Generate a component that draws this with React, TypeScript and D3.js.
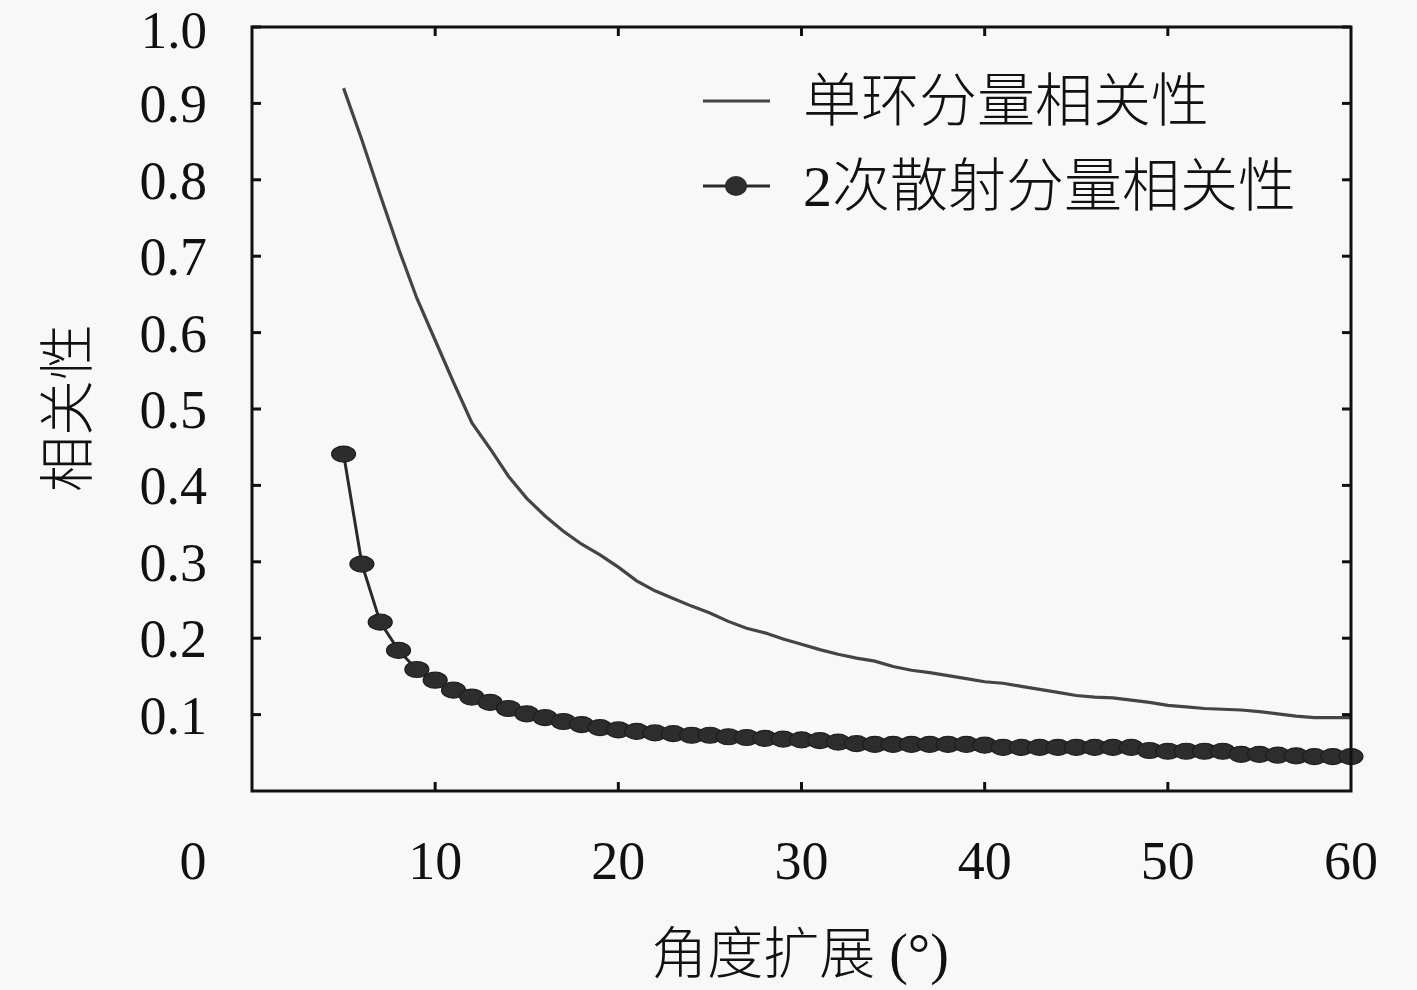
import React from "react";
import * as d3 from "d3";

const W = 1417;
const H = 990;

const angles: number[] = d3.range(5, 61);

const singleRing: number[] = [
  0.920, 0.852, 0.780, 0.710, 0.645, 0.590, 0.535, 0.482, 0.448, 0.412,
  0.383, 0.360, 0.340, 0.323, 0.309, 0.293, 0.275, 0.262, 0.252, 0.242,
  0.233, 0.222, 0.213, 0.207, 0.199, 0.192, 0.185, 0.179, 0.174, 0.170,
  0.163, 0.158, 0.155, 0.151, 0.147, 0.143, 0.141, 0.137, 0.133, 0.129,
  0.125, 0.123, 0.122, 0.119, 0.116, 0.112, 0.110, 0.108, 0.107, 0.106,
  0.104, 0.101, 0.098, 0.096, 0.096, 0.096,
];

const doubleScatter: number[] = [
  0.441, 0.297, 0.221, 0.184, 0.159, 0.145, 0.132, 0.123, 0.116, 0.108,
  0.101, 0.096, 0.091, 0.087, 0.083, 0.080, 0.078, 0.076, 0.075, 0.073,
  0.073, 0.071, 0.070, 0.069, 0.068, 0.067, 0.066, 0.064, 0.062, 0.061,
  0.061, 0.061, 0.061, 0.061, 0.061, 0.060, 0.057, 0.057, 0.057, 0.057,
  0.057, 0.057, 0.057, 0.057, 0.053, 0.052, 0.052, 0.052, 0.052, 0.048,
  0.048, 0.047, 0.046, 0.045, 0.045, 0.045,
];

const xTicks: number[] = [0, 10, 20, 30, 40, 50, 60];
const yTicks: number[] = [0.1, 0.2, 0.3, 0.4, 0.5, 0.6, 0.7, 0.8, 0.9, 1.0];

const legendLabels: string[] = ["单环分量相关性", "2次散射分量相关性"];
const xLabel = "角度扩展 (°)";
const yLabel = "相关性";

const numFont = "'Liberation Serif', 'DejaVu Serif', serif";
const cjkFont = "'Liberation Serif', 'Noto Sans CJK SC', serif";

export default function App() {
  const x = d3.scaleLinear().domain([0, 60]).range([252, 1351]);
  const y = d3.scaleLinear().domain([0, 1]).range([791, 27]);

  const line = d3
    .line<number>()
    .x((_, i) => x(angles[i]))
    .y((d) => y(d));

  const tickLen = 9;
  const frameColor = "#111";

  return (
    <svg
      width={W}
      height={H}
      style={{ position: "absolute", left: 0, top: 0, background: "#f8f8f8" }}
    >
      <rect x={0} y={0} width={W} height={H} fill="#f8f8f8" />

      {/* series 1 */}
      <path d={line(singleRing) || ""} fill="none" stroke="#444" strokeWidth={3.2} />

      {/* series 2 */}
      <path d={line(doubleScatter) || ""} fill="none" stroke="#2a2a2a" strokeWidth={3} />
      {doubleScatter.map((v, i) => (
        <ellipse
          key={i}
          cx={x(angles[i])}
          cy={y(v)}
          rx={12}
          ry={8}
          fill="#2d2d2d"
          stroke="#1e1e1e"
          strokeWidth={1.2}
        />
      ))}

      {/* frame */}
      <rect
        x={x(0)}
        y={y(1)}
        width={x(60) - x(0)}
        height={y(0) - y(1)}
        fill="none"
        stroke={frameColor}
        strokeWidth={3}
      />

      {/* y ticks (left + right, inward) */}
      {yTicks.map((t) => (
        <g key={"y" + t}>
          <line x1={x(0)} x2={x(0) + tickLen} y1={y(t)} y2={y(t)} stroke={frameColor} strokeWidth={3} />
          <line x1={x(60)} x2={x(60) - tickLen} y1={y(t)} y2={y(t)} stroke={frameColor} strokeWidth={3} />
          <text
            x={207}
            y={y(t) + (t === 1 ? 21 : 19)}
            textAnchor="end"
            fontFamily={numFont}
            fontSize={t === 1 ? 53 : 54}
            fill="#111"
          >
            {t.toFixed(1)}
          </text>
        </g>
      ))}

      {/* x ticks (bottom + top, inward) */}
      {xTicks.map((t) => (
        <g key={"x" + t}>
          {t > 0 && t < 60 && (
            <>
              <line x1={x(t)} x2={x(t)} y1={y(0)} y2={y(0) - tickLen} stroke={frameColor} strokeWidth={3} />
              <line x1={x(t)} x2={x(t)} y1={y(1)} y2={y(1) + tickLen} stroke={frameColor} strokeWidth={3} />
            </>
          )}
          <text
            x={x(t) + (t === 0 ? -59 : 0)}
            y={861}
            textAnchor="middle"
            dominantBaseline="central"
            fontFamily={numFont}
            fontSize={54}
            fill="#111"
          >
            {t}
          </text>
        </g>
      ))}

      {/* axis labels */}
      <text
        x={800}
        y={954}
        textAnchor="middle"
        dominantBaseline="central"
        fontFamily={cjkFont}
        fontSize={56}
        fontWeight={300}
        fill="#111"
      >
        {xLabel}
      </text>
      <text
        transform={`translate(68,408) rotate(-90)`}
        textAnchor="middle"
        dominantBaseline="central"
        fontFamily={cjkFont}
        fontSize={56}
        fontWeight={300}
        fill="#111"
      >
        {yLabel}
      </text>

      {/* legend */}
      <line x1={703} x2={770} y1={101} y2={101} stroke="#444" strokeWidth={3.2} />
      <text
        x={803}
        y={101}
        dominantBaseline="central"
        fontFamily={cjkFont}
        fontSize={58}
        fontWeight={300}
        fill="#111"
      >
        {legendLabels[0]}
      </text>
      <line x1={703} x2={770} y1={186} y2={186} stroke="#2a2a2a" strokeWidth={3} />
      <ellipse cx={736} cy={186} rx={11} ry={10} fill="#2d2d2d" />
      <text
        x={803}
        y={186}
        dominantBaseline="central"
        fontFamily={cjkFont}
        fontSize={58}
        fontWeight={300}
        fill="#111"
      >
        {legendLabels[1]}
      </text>
    </svg>
  );
}
